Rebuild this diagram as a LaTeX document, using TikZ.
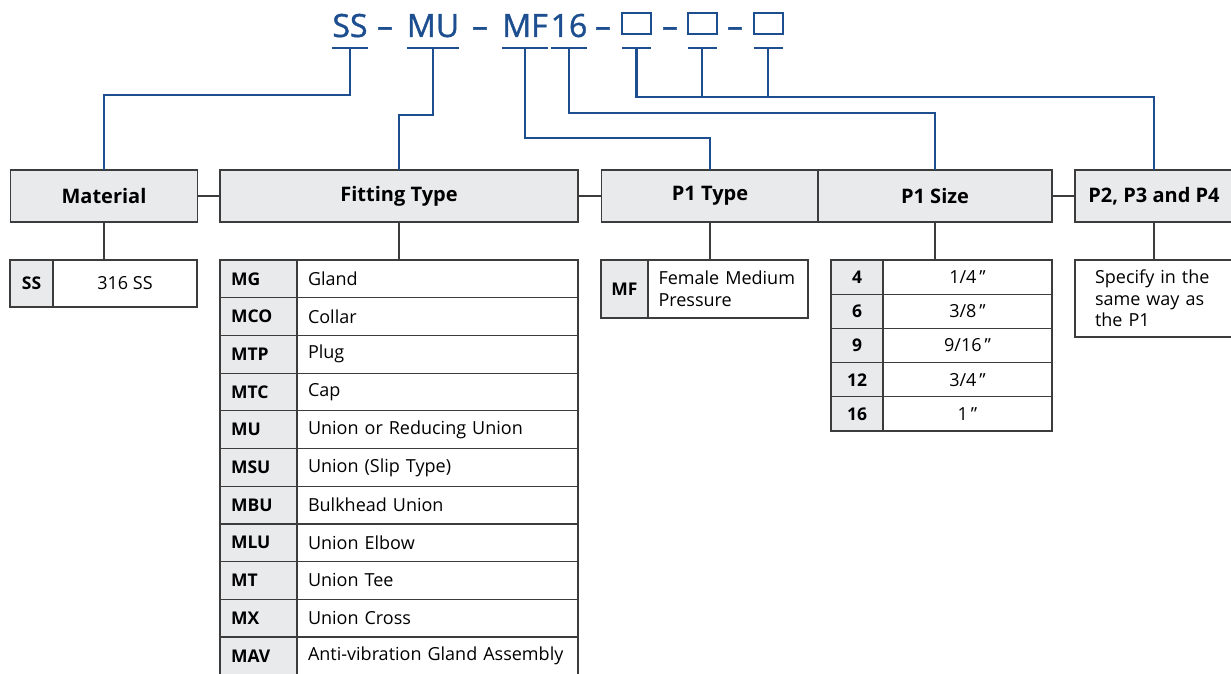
\documentclass[tikz,border=0pt]{standalone}
\usepackage{fontspec}
\setmainfont{Open Sans}
\newfontfamily\codefont{Open Sans}[FakeBold=1.2]
\definecolor{codeblue}{HTML}{1D4E8F}
\definecolor{cellgray}{HTML}{E9EAEC}
\definecolor{rulegray}{HTML}{3C3C3C}
\newcommand{\inch}{\,\symbol{34}}
\begin{document}
\begin{tikzpicture}[x=1pt,y=-1pt]
  \tikzstyle{every node}=[inner sep=0pt,outer sep=0pt]
  \tikzstyle{head}=[draw=rulegray,line width=1.2pt,fill=cellgray,minimum height=52pt,font=\fontsize{20}{24}\selectfont\bfseries]
  \tikzstyle{key}=[draw=rulegray,line width=1.2pt,fill=cellgray,font=\fontsize{17.5}{21}\selectfont\bfseries]
  \tikzstyle{val}=[draw=rulegray,line width=1.2pt,fill=white,font=\fontsize{18}{21.7}\selectfont]
  \tikzstyle{code}=[text=codeblue,font=\codefont\fontsize{32}{32}\selectfont,anchor=base]
  \tikzstyle{slot}=[draw=codeblue,line width=2pt,minimum width=29pt,minimum height=21pt]
  \tikzstyle{wire}=[draw=codeblue,line width=2.2pt]
  \tikzstyle{link}=[draw=rulegray,line width=1.2pt]
  \useasboundingbox (0,0) rectangle (1231,674);

  % ordering code
  \node[code] (ss) at (350,37) {SS};
  \node[code] (d1) at (385,37) {–};
  \node[code] (mu) at (433,37) {MU};
  \node[code] (d2) at (480,37) {–};
  \node[code] (mf) at (525,37) {MF};
  \node[code] (sz) at (569,37) {16};
  \node[code] (d3) at (603,37) {–};
  \node[slot] (b1) at (636.5,23.5) {};
  \node[code] (d4) at (670,37) {–};
  \node[slot] (b2) at (702,23.5) {};
  \node[code] (d5) at (735,37) {–};
  \node[slot] (b3) at (768,23.5) {};

  % headers
  \node[head,minimum width=187pt] (mat) at (104,196) {Material};
  \node[head,minimum width=358pt] (fit) at (399,196) {Fitting Type};
  \node[head,minimum width=217pt] (p1t) at (710,196) {P1 Type};
  \node[head,minimum width=234pt] (p1s) at (935,196) {P1 Size};
  \node[head,minimum width=158pt] (p2) at (1154,196) {P2, P3 and P4};
  \draw[link] (mat.east) -- (fit.west);
  \draw[link] (fit.east) -- (p1t.west);
  \draw[link] (p1s.east) -- (p2.west);

  % material
  \node[key,minimum width=43pt,minimum height=47pt] (matkey) at (31.5,283.5) {SS};
  \node[val,minimum width=144pt,minimum height=47pt] (matval) at (125,283.5) {316 SS};

  % fitting type
  \foreach \c/\d [count=\i from 0] in {MG/Gland,MCO/Collar,MTP/Plug,MTC/Cap,MU/Union or Reducing Union,MSU/Union (Slip Type),MBU/Bulkhead Union,MLU/Union Elbow,MT/Union Tee,MX/Union Cross,MAV/Anti-vibration Gland Assembly}{
    \node[key,minimum height=37.7pt,text width=55pt,inner xsep=11pt,align=left] (fitkey\i) at (258.5,{278.85+37.7*\i}) {\c};
    \node[val,minimum height=37.7pt,text width=259pt,inner xsep=11pt,align=left] (fitval\i) at (437.5,{278.85+37.7*\i}) {\d};
  }

  % P1 type
  \node[key,minimum width=47pt,minimum height=58pt] (p1tkey) at (624.5,289) {MF};
  \node[val,minimum height=58pt,text width=139pt,inner xsep=10.5pt,align=left] (p1tval) at (728,289) {Female Medium\\Pressure};

  % P1 size
  \foreach \c/\d [count=\i from 0] in {4/{1/4\inch},6/{3/8\inch},9/{9/16\inch},12/{3/4\inch},16/{1\inch}}{
    \node[key,minimum width=52pt,minimum height=34.2pt] (p1skey\i) at (857,{277.1+34.2*\i}) {\c};
    \node[val,minimum width=169pt,minimum height=34.2pt] (p1sval\i) at (967.5,{277.1+34.2*\i}) {\d};
  }

  % P2, P3 and P4
  \node[val,minimum height=77pt,text width=140pt,inner xsep=20pt,align=left] (p2val) at (1165,298.5) {Specify in the\\same way as\\the P1};

  \draw[link] (mat.south) -- (mat.south |- matval.north);
  \draw[link] (fit.south) -- (fit.south |- fitval0.north);
  \draw[link] (p1t.south) -- (p1t.south |- p1tval.north);
  \draw[link] (p1s.south) -- (p1s.south |- p1sval0.north);
  \draw[link] (p2.south) -- (p2.south |- p2val.north);

  % underlines and wires
  \foreach \n in {ss,mu,mf,sz}
    \draw[wire] ([yshift=-11pt]\n.base west) -- ([yshift=-11pt]\n.base east);
  \foreach \n in {b1,b2,b3}
    \draw[wire] ([yshift=-14pt]\n.south west) -- ([yshift=-14pt]\n.south east);
  \draw[wire] ([yshift=-11pt]ss.base) -- ++(0,47) -| (mat.north);
  \draw[wire] ([yshift=-11pt]mu.base) -- ++(0,67) -| (fit.north);
  \draw[wire] ([yshift=-11pt]mf.base) -- ++(0,90) -| (p1t.north);
  \draw[wire] ([yshift=-11pt]sz.base) -- ++(0,65) -| (p1s.north);
  \draw[wire] ([yshift=-14pt]b1.south) -- ++(0,49) -| (p2.north);
  \draw[wire] ([yshift=-14pt]b2.south) -- ++(0,49);
  \draw[wire] ([yshift=-14pt]b3.south) -- ++(0,49);
\end{tikzpicture}
\end{document}
